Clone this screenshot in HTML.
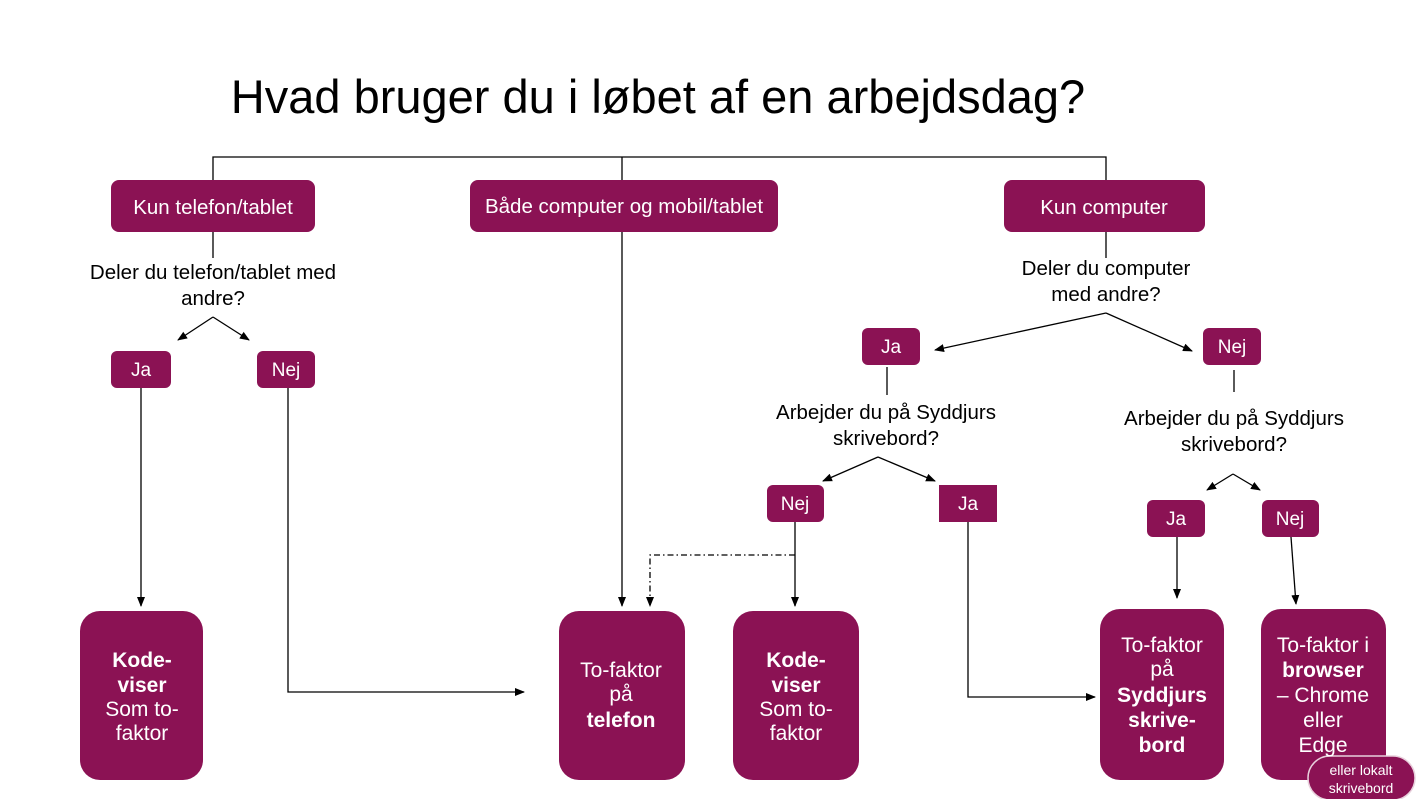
<!DOCTYPE html>
<html><head><meta charset="utf-8"><style>
html,body{margin:0;padding:0;background:#fff}
svg{display:block}
text{font-family:"Liberation Sans",sans-serif}
</style></head><body>
<svg width="1420" height="799" viewBox="0 0 1420 799" xmlns="http://www.w3.org/2000/svg">
<defs><marker id="a" markerWidth="10" markerHeight="10" refX="9" refY="5" orient="auto" markerUnits="userSpaceOnUse"><path d="M0,1 L10,5 L0,9 z" fill="#000"/></marker></defs>
<text x="658" y="113" font-size="47" text-anchor="middle" fill="#000">Hvad bruger du i løbet af en arbejdsdag?</text>
<g stroke="#000" stroke-width="1.3" fill="none">
<path d="M213,180 V157 H1106 V180 M622,157 V180"/>
<path d="M213,232 V258 M1106,232 V258"/>
<path d="M213,317 L178,340" marker-end="url(#a)"/>
<path d="M213,317 L249,340" marker-end="url(#a)"/>
<path d="M141,388 V606" marker-end="url(#a)"/>
<path d="M288,388 V692 H524" marker-end="url(#a)"/>
<path d="M622,232 V606" marker-end="url(#a)"/>
<path d="M1106,313 L935,350" marker-end="url(#a)"/>
<path d="M1106,313 L1192,351" marker-end="url(#a)"/>
<path d="M887,367 V395"/>
<path d="M878,457 L823,481" marker-end="url(#a)"/>
<path d="M878,457 L935,481" marker-end="url(#a)"/>
<path d="M795,522 V606" marker-end="url(#a)"/>
<path d="M795,555 H650 V606" stroke-dasharray="6,3,1.5,3" marker-end="url(#a)"/>
<path d="M968,522 V697 H1095" marker-end="url(#a)"/>
<path d="M1234,370 V392"/>
<path d="M1233,474 L1207,490" marker-end="url(#a)"/>
<path d="M1233,474 L1260,490" marker-end="url(#a)"/>
<path d="M1177,537 V598" marker-end="url(#a)"/>
<path d="M1291,537 L1296,604" marker-end="url(#a)"/>
</g>
<g fill="#8B1254">
<rect x="111" y="180" width="204" height="52" rx="8"/>
<rect x="470" y="180" width="308" height="52" rx="8"/>
<rect x="1004" y="180" width="201" height="52" rx="8"/>
<rect x="111" y="351" width="60" height="37" rx="6"/>
<rect x="257" y="351" width="58" height="37" rx="6"/>
<rect x="862" y="328" width="58" height="37" rx="6"/>
<rect x="1203" y="328" width="58" height="37" rx="6"/>
<rect x="767" y="485" width="57" height="37" rx="6"/>
<rect x="939" y="485" width="58" height="37"/>
<rect x="1147" y="500" width="58" height="37" rx="6"/>
<rect x="1262" y="500" width="57" height="37" rx="6"/>
<rect x="80" y="611" width="123" height="169" rx="20"/>
<rect x="559" y="611" width="126" height="169" rx="20"/>
<rect x="733" y="611" width="126" height="169" rx="20"/>
<rect x="1100" y="609" width="124" height="171" rx="20"/>
<rect x="1261" y="609" width="125" height="171" rx="20"/>
<rect x="1308" y="756" width="107" height="44" rx="22" stroke="#e8d0dc" stroke-width="1.5"/>
</g>
<g fill="#fff" font-size="20.5" text-anchor="middle">
<text x="213" y="214">Kun telefon/tablet</text>
<text x="624" y="213">Både computer og mobil/tablet</text>
<text x="1104" y="214">Kun computer</text>
<g font-size="19">
<text x="141" y="376">Ja</text>
<text x="286" y="376">Nej</text>
<text x="891" y="353">Ja</text>
<text x="1232" y="353">Nej</text>
<text x="795" y="510">Nej</text>
<text x="968" y="510">Ja</text>
<text x="1176" y="525">Ja</text>
<text x="1290" y="525">Nej</text>
</g>
<g font-size="21">
<text x="142" y="667" font-weight="bold">Kode-</text>
<text x="142" y="692" font-weight="bold">viser</text>
<text x="142" y="716">Som to-</text>
<text x="142" y="740">faktor</text>
<text x="621" y="677">To-faktor</text>
<text x="621" y="701">på</text>
<text x="621" y="727" font-weight="bold">telefon</text>
<text x="796" y="667" font-weight="bold">Kode-</text>
<text x="796" y="692" font-weight="bold">viser</text>
<text x="796" y="716">Som to-</text>
<text x="796" y="740">faktor</text>
<text x="1162" y="652">To-faktor</text>
<text x="1162" y="676">på</text>
<text x="1162" y="702" font-weight="bold">Syddjurs</text>
<text x="1162" y="727" font-weight="bold">skrive-</text>
<text x="1162" y="752" font-weight="bold">bord</text>
<text x="1323" y="652">To-faktor i</text>
<text x="1323" y="677" font-weight="bold">browser</text>
<text x="1323" y="702">– Chrome</text>
<text x="1323" y="727">eller</text>
<text x="1323" y="752">Edge</text>
</g>
<text x="1361" y="775" font-size="14">eller lokalt</text>
<text x="1361" y="793" font-size="14">skrivebord</text>
</g>
<g fill="#000" font-size="20.5" text-anchor="middle">
<text x="213" y="279">Deler du telefon/tablet med</text>
<text x="213" y="305">andre?</text>
<text x="1106" y="275">Deler du computer</text>
<text x="1106" y="301">med andre?</text>
<text x="886" y="419">Arbejder du på Syddjurs</text>
<text x="886" y="445">skrivebord?</text>
<text x="1234" y="425">Arbejder du på Syddjurs</text>
<text x="1234" y="451">skrivebord?</text>
</g>
</svg>
</body></html>
